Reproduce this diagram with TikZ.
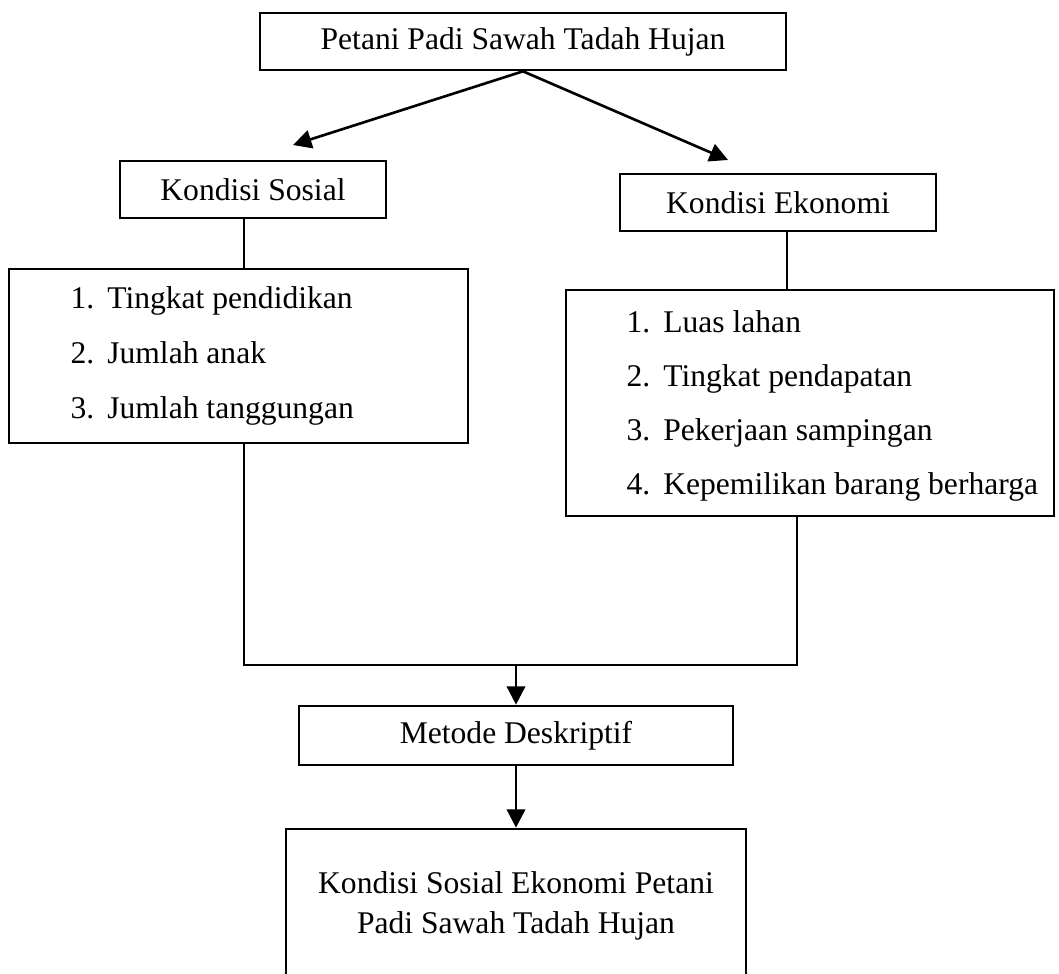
\documentclass[tikz,border=0pt]{standalone}
\usepackage{fontspec}
\setmainfont{Liberation Serif}
\usetikzlibrary{arrows.meta}
\tikzset{
  box/.style={draw, line width=1pt, inner sep=0pt, font=\fontsize{12}{15}\selectfont},
  item/.style={anchor=base west, inner sep=0pt, font=\fontsize{12}{15}\selectfont},
  link/.style={line width=1pt},
  arr/.style={line width=1pt, -{Triangle[length=7pt,width=7pt]}}
}
\begin{document}
\begin{tikzpicture}[x=.38pt,y=-.38pt]
\useasboundingbox (0,0) rectangle (1059,974);

% petani:
\node[box, minimum width=526*.38pt, minimum height=57*.38pt] (petani) at (523,41.5) {Petani Padi Sawah Tadah Hujan};
\coordinate (aL) at (293,145);
\coordinate (aR) at (728,160);
\draw[arr] (petani.south) -- (aL);
\draw[arr] (petani.south) -- (aR);

% sosial:
\node[box, minimum width=266*.38pt, minimum height=57*.38pt] (sos) at (253,189.5) {Kondisi Sosial};
\node[box, minimum width=459*.38pt, minimum height=174*.38pt] (soslist) at (238.5,356) {};
\foreach \txt [count=\i] in {Tingkat pendidikan, Jumlah anak, Jumlah tanggungan}
  \node[item] (sos-\i) at (70,254.5+54.5*\i) {\makebox[14pt][l]{\i.}\txt};
\draw[link] (sos.south) ++(-9,0) coordinate (s1) -- (s1 |- soslist.north);

% ekonomi:
\node[box, minimum width=316*.38pt, minimum height=57*.38pt] (eko) at (778,202.5) {Kondisi Ekonomi};
\node[box, minimum width=488*.38pt, minimum height=226*.38pt] (ekolist) at (810,403) {};
\foreach \txt [count=\i] in {Luas lahan, Tingkat pendapatan, Pekerjaan sampingan, Kepemilikan barang berharga}
  \node[item] (eko-\i) at (626,278+54*\i) {\makebox[14pt][l]{\i.}\txt};
\draw[link] (eko.south) ++(9,0) coordinate (e1) -- (e1 |- ekolist.north);

% join:
\node[box, minimum width=434*.38pt, minimum height=59*.38pt] (metode) at (516,735.5) {Metode Deskriptif};
\coordinate (mrg) at (516,665);
\path (ekolist.south) ++(-13,0) coordinate (e2);
\draw[link] (s1 |- soslist.south) |- (mrg) -| (e2);
\draw[arr] (mrg) -- (metode.north);

% hasil:
\node[box, align=center, minimum width=460*.38pt, minimum height=154*.38pt] (hasil) at (516,906) {Kondisi Sosial Ekonomi Petani\\Padi Sawah Tadah Hujan};
\draw[arr] (metode.south) -- (metode.south |- hasil.north);
\end{tikzpicture}
\end{document}
